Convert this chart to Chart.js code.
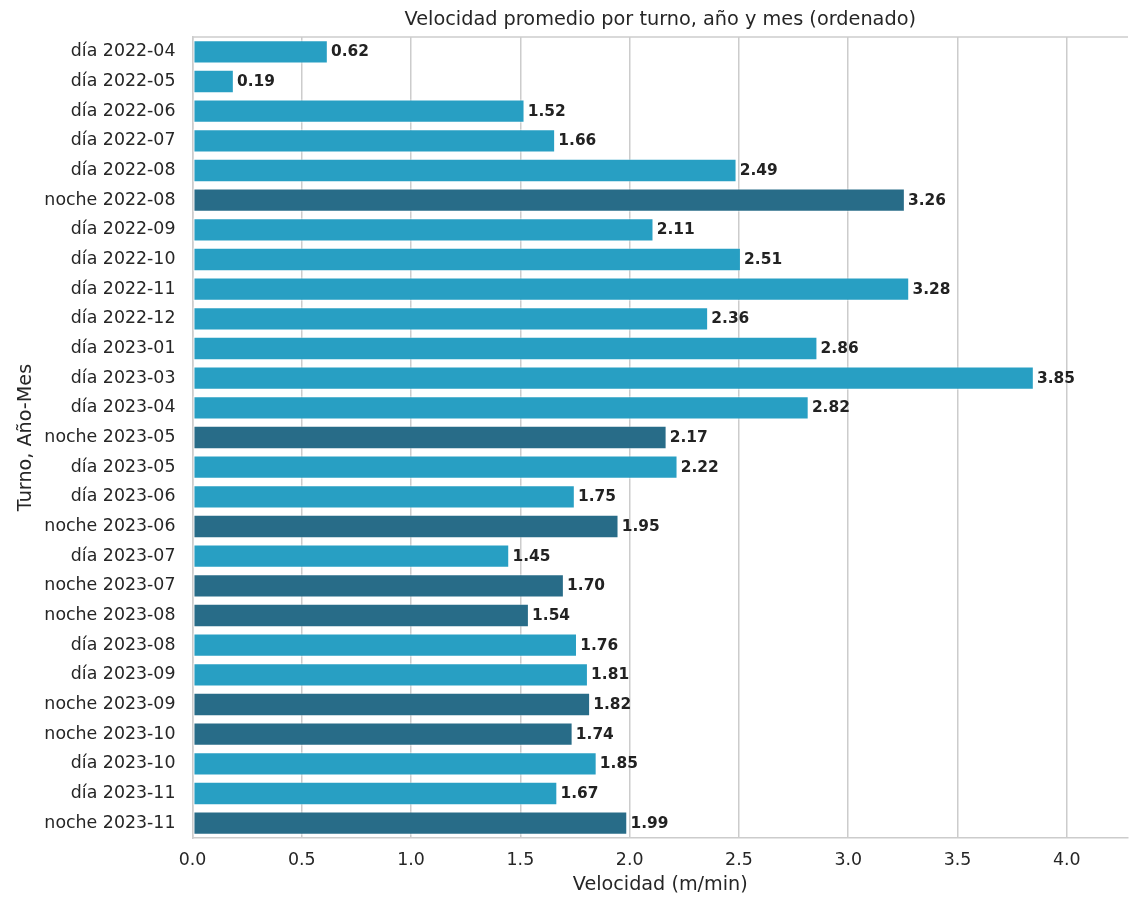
<!DOCTYPE html>
<html>
<head>
<meta charset="utf-8">
<script src="https://cdn.jsdelivr.net/npm/chart.js@4/dist/chart.umd.min.js"></script>
<style>
  html, body { margin: 0; padding: 0; background: #ffffff; }
  #wrap { width: 1129px; height: 897px; }
</style>
</head>
<body>
<div id="wrap"><canvas id="c" width="1129" height="897"></canvas></div>
<script>
// ---- data ----
const turnos = ["día","día","día","día","día","noche","día","día","día","día","día","día","día","noche","día","día","noche","día","noche","noche","día","día","noche","noche","día","día","noche"];
const meses = ["2022-04","2022-05","2022-06","2022-07","2022-08","2022-08","2022-09","2022-10","2022-11","2022-12","2023-01","2023-03","2023-04","2023-05","2023-05","2023-06","2023-06","2023-07","2023-07","2023-08","2023-08","2023-09","2023-09","2023-10","2023-10","2023-11","2023-11"];
const velocidad = [0.62,0.19,1.52,1.66,2.49,3.26,2.11,2.51,3.28,2.36,2.86,3.85,2.82,2.17,2.22,1.75,1.95,1.45,1.70,1.54,1.76,1.81,1.82,1.74,1.85,1.67,1.99];
const xTicks = [0.0, 0.5, 1.0, 1.5, 2.0, 2.5, 3.0, 3.5, 4.0];
const xMax = 4.28;
const titulo = "Velocidad promedio por turno, año y mes (ordenado)";
const xTitulo = "Velocidad (m/min)";
const yTitulo = "Turno, Año-Mes";

// ---- styles ----
const colorDia = "#289fc3";
const colorNoche = "#286c88";
const textColor = "#262626";
const gridColor = "#cccccc";
const FONT = "'DejaVu Sans', sans-serif";

const categorias = turnos.map((t, i) => t + " " + meses[i]);
const colores = turnos.map(t => t === "noche" ? colorNoche : colorDia);

const titlePlugin = {
  id: 'axTitle',
  afterDraw(chart) {
    const ctx = chart.ctx, a = chart.chartArea;
    ctx.save();
    ctx.font = "19.3px " + FONT;
    ctx.fillStyle = textColor;
    ctx.textAlign = "center";
    ctx.textBaseline = "middle";
    ctx.fillText(titulo, (a.left + a.right) / 2, 20);
    ctx.restore();
  }
};

const topSpine = {
  id: 'topSpine',
  afterDatasetsDraw(chart) {
    const ctx = chart.ctx, a = chart.chartArea;
    ctx.save();
    ctx.strokeStyle = gridColor;
    ctx.lineWidth = 1.5;
    ctx.beginPath();
    ctx.moveTo(a.left, a.top);
    ctx.lineTo(a.right, a.top);
    ctx.stroke();
    ctx.restore();
  }
};

const valueLabels = {
  id: 'valueLabels',
  afterDatasetsDraw(chart) {
    const ctx = chart.ctx;
    const meta = chart.getDatasetMeta(0);
    ctx.save();
    ctx.font = "bold 15.4px " + FONT;
    ctx.fillStyle = "#222222";
    ctx.textAlign = "left";
    ctx.textBaseline = "middle";
    meta.data.forEach((el, i) => {
      ctx.fillText(velocidad[i].toFixed(2), el.x + 3, el.y + 0.5);
    });
    ctx.restore();
  }
};

new Chart(document.getElementById('c'), {
  type: 'bar',
  data: {
    labels: categorias,
    datasets: [{
      data: velocidad,
      backgroundColor: colores,
      borderColor: "rgba(255,255,255,0.35)",
      borderWidth: 1.2,
      borderSkipped: false,
      barPercentage: 0.8,
      categoryPercentage: 1.0
    }]
  },
  options: {
    indexAxis: 'y',
    responsive: false,
    devicePixelRatio: 1,
    animation: false,
    layout: { padding: { top: 37, right: 1, left: 0, bottom: 0 } },
    plugins: {
      legend: { display: false },
      title: { display: false },
      tooltip: { enabled: false }
    },
    scales: {
      x: {
        type: 'linear',
        min: 0,
        max: xMax,
        afterBuildTicks(scale) {
          scale.ticks = xTicks.map(v => ({ value: v }));
        },
        afterFit(scale) { scale.height = 59; },
        ticks: {
          padding: 12,
          autoSkip: false,
          color: textColor,
          font: { family: FONT, size: 17.4 },
          callback: v => Number(v).toFixed(1)
        },
        grid: { color: gridColor, lineWidth: 1.5, drawTicks: false },
        border: { display: true, color: gridColor, width: 1.5 },
        title: {
          display: true,
          text: xTitulo,
          color: textColor,
          font: { family: FONT, size: 19.2 },
          padding: { top: 0, bottom: 0 }
        }
      },
      y: {
        type: 'category',
        afterFit(scale) { scale.width = 192.5; },
        ticks: {
          padding: 17,
          color: textColor,
          font: { family: FONT, size: 17.4 },
          autoSkip: false
        },
        grid: { display: false, drawTicks: false },
        border: { display: true, color: gridColor, width: 1.5 },
        title: {
          display: true,
          text: yTitulo,
          color: textColor,
          font: { family: FONT, size: 19.2 },
          padding: { top: 14, bottom: 0 }
        }
      }
    }
  },
  plugins: [titlePlugin, topSpine, valueLabels]
});
</script>
</body>
</html>
